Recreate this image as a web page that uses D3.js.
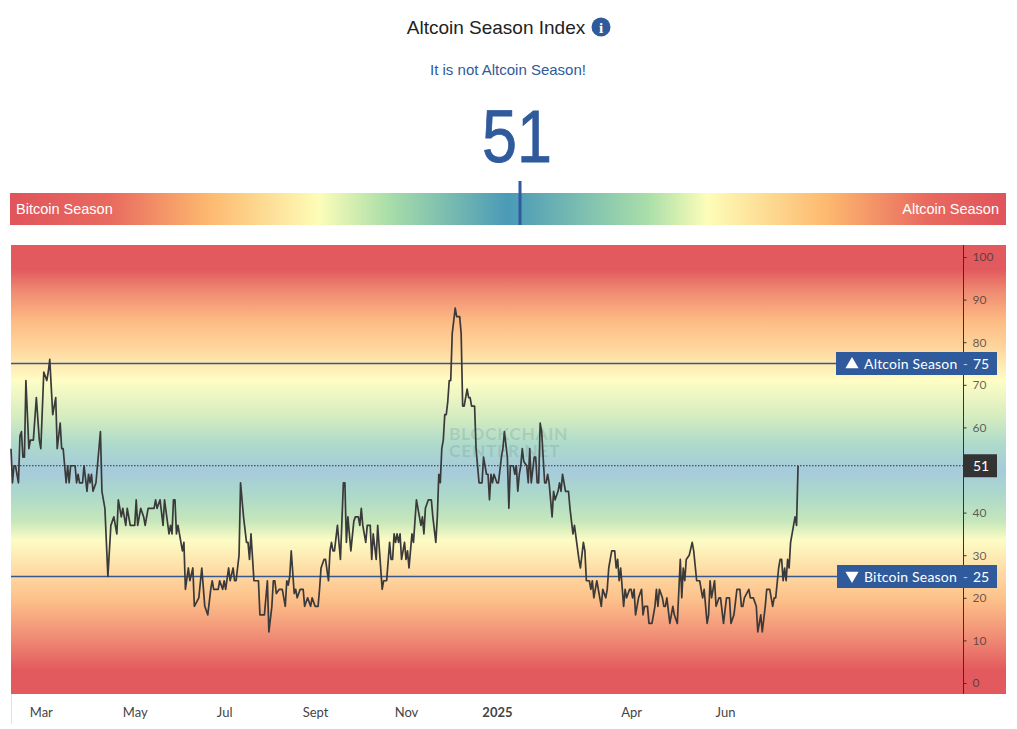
<!DOCTYPE html>
<html>
<head>
<meta charset="utf-8">
<title>Altcoin Season Index</title>
<script src="https://cdn.jsdelivr.net/npm/d3@7/dist/d3.min.js"></script>
<style>
	html, body { margin: 0; padding: 0; background: #fff; }
	svg { display: block; }
	text { font-family: "Liberation Sans", Arial, sans-serif; }
	.chartText { font-family: "Lato", "Noto Sans", sans-serif; }
</style>
</head>
<body>
<svg id="chart" width="1017" height="729"></svg>
<script>
	var startDate = '2024-02-10';
	var currentValue = 51;

	// days since startDate, one row of dayOffsets per row of indexValues
	var dayOffsets = [
		0,1,2,3,5,6,7,8,9,10,12,13,15,17,19,20,22,24,25,26,
		28,30,31,33,34,35,37,38,39,40,43,44,45,46,48,49,51,52,53,54,
		55,57,60,61,63,65,67,69,71,72,74,75,77,78,80,83,84,85,87,89,
		90,92,96,97,98,100,102,103,106,107,108,109,110,111,112,115,116,117,119,120,
		122,123,126,128,130,132,134,135,136,139,140,142,143,144,146,147,149,150,151,153,
		154,156,158,159,160,161,163,166,167,168,170,172,173,175,176,177,178,180,182,184,
		185,186,187,188,190,191,192,194,196,197,199,201,202,204,206,207,208,210,211,213,
		214,215,216,217,219,221,223,224,225,226,228,230,231,233,234,235,236,238,239,241,
		242,243,245,246,249,250,252,254,255,256,257,258,259,260,261,262,264,265,266,267,
		269,270,272,273,275,276,277,278,280,282,283,285,286,287,288,289,290,291,292,293,
		294,295,296,298,299,301,302,303,304,306,307,308,309,311,312,314,316,317,319,320,
		321,322,323,324,326,327,329,330,331,333,334,335,337,338,339,340,341,342,343,344,
		346,347,348,349,351,352,353,354,355,356,358,359,360,361,363,364,365,367,368,369,
		370,372,374,375,377,378,381,382,384,385,386,388,389,390,391,393,396,397,399,400,
		401,403,405,406,407,408,409,411,412,413,415,416,417,418,419,421,423,424,425,427,
		428,430,432,433,434,435,437,438,439,440,442,444,445,447,449,450,451,452,453,455,
		457,458,460,462,464,465,467,468,469,470,472,473,475,476,478,480,482,483,485,487,
		489,490,491,492,495,496,498,500,501,503,504,506,507,509,511,512,513,515,516,517,
		518,519,520,521,522,523,525,526,527,528
	];

	var indexValues = [
		55,47,51,51,47,58,59,53,53,71,55,57,57,67,57,55,73,71,73,76,
		63,67,55,61,55,55,47,51,47,51,51,47,49,47,47,51,45,49,47,49,
		45,47,59,45,41,25,37,39,35,43,39,41,37,41,37,37,43,37,41,39,
		37,41,41,43,41,43,37,43,35,37,35,43,43,35,37,31,33,22,27,24,
		27,18,20,27,18,16,22,24,22,22,24,22,24,22,27,24,27,24,24,30,
		47,39,33,33,29,35,24,24,16,16,16,24,12,18,24,24,21,22,22,18,
		24,23,25,31,21,22,20,22,22,18,20,18,20,18,18,22,27,29,29,24,
		31,33,31,31,37,29,47,47,33,39,31,38,39,39,37,41,37,33,37,37,
		29,35,29,37,22,24,24,33,29,29,35,33,35,33,35,29,33,29,31,27,
		35,33,43,41,37,39,35,41,43,43,39,33,39,49,47,55,57,63,63,66,
		71,71,82,88,86,86,82,65,65,69,67,67,65,65,55,47,47,53,49,49,
		43,49,47,49,47,47,53,55,59,53,41,51,51,49,51,45,49,51,55,52,
		51,47,55,47,53,53,47,47,61,59,47,47,49,47,39,45,43,45,47,45,
		49,45,45,41,35,37,29,27,33,31,24,24,22,24,20,24,18,22,20,22,
		27,31,31,27,29,24,27,18,22,20,22,22,20,22,16,20,22,16,18,18,
		14,14,18,22,18,22,20,18,18,20,14,18,16,14,29,20,27,24,29,30,
		33,31,24,24,20,22,14,16,24,20,24,18,20,20,14,20,20,14,16,22,
		22,18,18,20,22,20,20,18,12,16,12,18,22,22,18,20,20,27,29,29,
		24,27,24,29,27,33,37,39,37,51
	];

	// 50 sits behind the current value flag
	var valueTicks = [0, 10, 20, 30, 40, 60, 70, 80, 90, 100];
	var monthTickDates = ['2024-03-01', '2024-05-03', '2024-07-02', '2024-09-01', '2024-11-01', '2025-01-01', '2025-04-01', '2025-06-03'];
	var monthTickLabels = ['Mar', 'May', 'Jul', 'Sept', 'Nov', '2025', 'Apr', 'Jun'];

	// background colour by index value
	var zoneValues = [103, 97, 92, 85, 78, 71, 62, 56, 50, 44, 38, 33.5, 26.5, 19.5, 10, 3, -3];
	var zoneColors = ['#e25a5e', '#e25a5e', '#ef8a72', '#fdbb84', '#fed9a0', '#fefdc5', '#d3ebc0', '#addacb', '#a6cbdb', '#add9ca', '#c6e7bb', '#fdfcc5', '#fedca5', '#fdc08a', '#ef8873', '#e25a5e', '#e25a5e'];

	// top bar colour along its width, 0 = Bitcoin Season, 100 = Altcoin Season
	var barStops = [0, 10, 20, 31, 38, 50, 64, 70, 82, 92, 100];
	var barColors = ['#e0545c', '#e86a5f', '#fdb96f', '#fdfdb8', '#a9dea9', '#4a9ab8', '#a9dea9', '#fdfdb8', '#fdb96f', '#e86a5f', '#e0545c'];

	var blue = '#2f5a9b';
	var plot = { left: 11, right: 1006, axis: 963.5, top: 245, bottom: 694 };

	var svg = d3.select('#chart');
	var parseDay = d3.utcParse('%Y-%m-%d');
	var start = parseDay(startDate);

	var points = dayOffsets.map(function (d, i) {
		return { date: d3.utcDay.offset(start, d), value: indexValues[i] };
	});

	var xScale = d3.scaleUtc()
		.domain([start, d3.utcDay.offset(start, 639)])
		.range([plot.left, plot.axis]);

	var yScale = d3.scaleLinear()
		.domain([0, 100])
		.range([683, 257]);

	var defs = svg.append('defs');

	var zoneGradient = defs.append('linearGradient')
		.attr('id', 'zoneGradient')
		.attr('gradientUnits', 'userSpaceOnUse')
		.attr('x1', 0).attr('x2', 0)
		.attr('y1', plot.top).attr('y2', plot.bottom);

	zoneGradient.selectAll('stop').data(zoneValues).enter().append('stop')
		.attr('offset', function (d) { return (yScale(d) - plot.top) / (plot.bottom - plot.top); })
		.attr('stop-color', function (d, i) { return zoneColors[i]; });

	var barGradient = defs.append('linearGradient').attr('id', 'barGradient');

	barGradient.selectAll('stop').data(barStops).enter().append('stop')
		.attr('offset', function (d) { return d / 100; })
		.attr('stop-color', function (d, i) { return barColors[i]; });

	//_ header

	svg.append('text').attr('x', 496).attr('y', 33.5)
		.attr('text-anchor', 'middle').attr('font-size', 19).attr('fill', '#222')
		.text('Altcoin Season Index');

	svg.append('circle').attr('cx', 601).attr('cy', 27).attr('r', 9.5).attr('fill', blue);

	svg.append('text').attr('x', 601).attr('y', 32.5)
		.attr('text-anchor', 'middle').attr('font-size', 15).attr('font-weight', 'bold')
		.attr('fill', '#fff').style('font-family', '"Liberation Serif", serif')
		.text('i');

	svg.append('text').attr('x', 508).attr('y', 74.5)
		.attr('text-anchor', 'middle').attr('font-size', 15).attr('fill', blue)
		.text('It is not Altcoin Season!');

	svg.append('text').attr('x', 517).attr('y', 162)
		.attr('text-anchor', 'middle').attr('font-size', 75).attr('fill', blue)
		.attr('textLength', 70).attr('lengthAdjust', 'spacingAndGlyphs')
		.attr('stroke', blue).attr('stroke-width', 0.8)
		.text(currentValue);

	//_ season bar

	svg.append('rect')
		.attr('x', 10).attr('y', 193).attr('width', 996).attr('height', 32)
		.attr('fill', 'url(#barGradient)');

	svg.append('text').attr('x', 16).attr('y', 214)
		.attr('font-size', 14.5).attr('fill', '#fff')
		.text('Bitcoin Season');

	svg.append('text').attr('x', 999).attr('y', 214)
		.attr('text-anchor', 'end').attr('font-size', 14.5).attr('fill', '#fff')
		.text('Altcoin Season');

	svg.append('rect')
		.attr('x', 518.5).attr('y', 181).attr('width', 3).attr('height', 44)
		.attr('fill', blue);

	//_ plot

	svg.append('rect')
		.attr('x', plot.left).attr('y', plot.top)
		.attr('width', plot.right - plot.left).attr('height', plot.bottom - plot.top)
		.attr('fill', 'url(#zoneGradient)');

	svg.append('line')
		.attr('x1', plot.left + 0.5).attr('x2', plot.left + 0.5)
		.attr('y1', plot.bottom).attr('y2', 724)
		.attr('stroke', '#e3e3e3');

	svg.append('text').attr('class', 'chartText')
		.attr('x', 449).attr('y', 440)
		.attr('font-size', 17.5).attr('font-weight', 'bold').attr('letter-spacing', 0.6)
		.attr('fill', '#6d8f8f').attr('fill-opacity', 0.25)
		.text('BLOCKCHAIN');

	svg.append('text').attr('class', 'chartText')
		.attr('x', 449).attr('y', 457)
		.attr('font-size', 17.5).attr('font-weight', 'bold').attr('letter-spacing', 0.6)
		.attr('fill', '#6d8f8f').attr('fill-opacity', 0.25)
		.text('CENTER.NET');

	[75, 25].forEach(function (d) {
		svg.append('line')
			.attr('x1', plot.left).attr('x2', plot.axis)
			.attr('y1', yScale(d)).attr('y2', yScale(d))
			.attr('stroke', '#34588f').attr('stroke-width', 1.5);
	});

	svg.append('line')
		.attr('x1', plot.left).attr('x2', plot.axis)
		.attr('y1', yScale(currentValue)).attr('y2', yScale(currentValue))
		.attr('stroke', '#333').attr('stroke-width', 1).attr('stroke-dasharray', '1.5 1.5');

	var line = d3.line()
		.x(function (d) { return xScale(d.date); })
		.y(function (d) { return yScale(d.value); });

	svg.append('path').datum(points)
		.attr('d', line)
		.attr('fill', 'none')
		.attr('stroke', '#3a3a3a')
		.attr('stroke-width', 1.7)
		.attr('stroke-linejoin', 'round');

	//_ axes

	var yAxis = svg.append('g')
		.attr('class', 'chartText')
		.attr('transform', 'translate(' + plot.axis + ',0)')
		.call(d3.axisRight(yScale).tickValues(valueTicks).tickSize(3).tickPadding(6));

	yAxis.select('.domain').remove();
	yAxis.selectAll('.tick line').attr('stroke', '#333');
	yAxis.selectAll('.tick text')
		.attr('font-size', 12).attr('fill', '#333').attr('fill-opacity', 0.75)
		.style('font-family', '"Lato", sans-serif');

	svg.append('line')
		.attr('x1', plot.axis).attr('x2', plot.axis)
		.attr('y1', plot.top).attr('y2', plot.bottom)
		.attr('stroke', '#333');

	var xAxis = svg.append('g')
		.attr('transform', 'translate(0,' + plot.bottom + ')')
		.call(d3.axisBottom(xScale)
			.tickValues(monthTickDates.map(parseDay))
			.tickSize(0)
			.tickPadding(14)
			.tickFormat(function (d, i) { return monthTickLabels[i]; }));

	xAxis.select('.domain').remove();
	xAxis.selectAll('.tick text')
		.attr('font-size', 13).attr('fill', '#444')
		.attr('font-weight', function (d, i) { return monthTickLabels[i] === '2025' ? 'bold' : 'normal'; })
		.style('font-family', '"Lato", sans-serif');

	//_ value flags

	var flags = [
		{ value: 75, left: 836, label: 'Altcoin Season', symbol: d3.symbolTriangle, flip: false },
		{ value: 25, left: 837, label: 'Bitcoin Season', symbol: d3.symbolTriangle, flip: true }
	];

	flags.forEach(function (flag) {
		var y = yScale(flag.value);
		var group = svg.append('g').attr('class', 'chartText');

		group.append('rect')
			.attr('x', flag.left).attr('y', y - 11.5)
			.attr('width', 997 - flag.left).attr('height', 23)
			.attr('fill', blue);

		group.append('path')
			.attr('d', d3.symbol().type(flag.symbol).size(75)())
			.attr('transform', 'translate(852,' + (y + (flag.flip ? -1 : 1)) + ')' + (flag.flip ? ' scale(1,-1)' : ''))
			.attr('fill', '#fff');

		group.append('text').attr('x', 864).attr('y', y + 5)
			.attr('font-size', 14).attr('fill', '#fff').attr('letter-spacing', 0.2)
			.style('font-family', '"Lato", sans-serif')
			.text(flag.label);

		group.append('text').attr('x', 963).attr('y', y + 5)
			.attr('font-size', 13).attr('fill', '#fff').attr('fill-opacity', 0.7)
			.style('font-family', '"Lato", sans-serif')
			.text('-');

		group.append('text').attr('x', 973).attr('y', y + 5)
			.attr('font-size', 14).attr('fill', '#fff')
			.style('font-family', '"Lato", sans-serif')
			.text(flag.value);
	});

	svg.append('rect')
		.attr('x', plot.axis).attr('y', yScale(currentValue) - 11.5)
		.attr('width', 997 - plot.axis).attr('height', 23)
		.attr('fill', '#333');

	svg.append('text').attr('x', 973).attr('y', yScale(currentValue) + 5)
		.attr('font-size', 14).attr('fill', '#fff')
		.style('font-family', '"Lato", sans-serif')
		.text(currentValue);

	if (dayOffsets.length !== indexValues.length) {
		console.error('series length mismatch', dayOffsets.length, indexValues.length);
	}
</script>
</body>
</html>
